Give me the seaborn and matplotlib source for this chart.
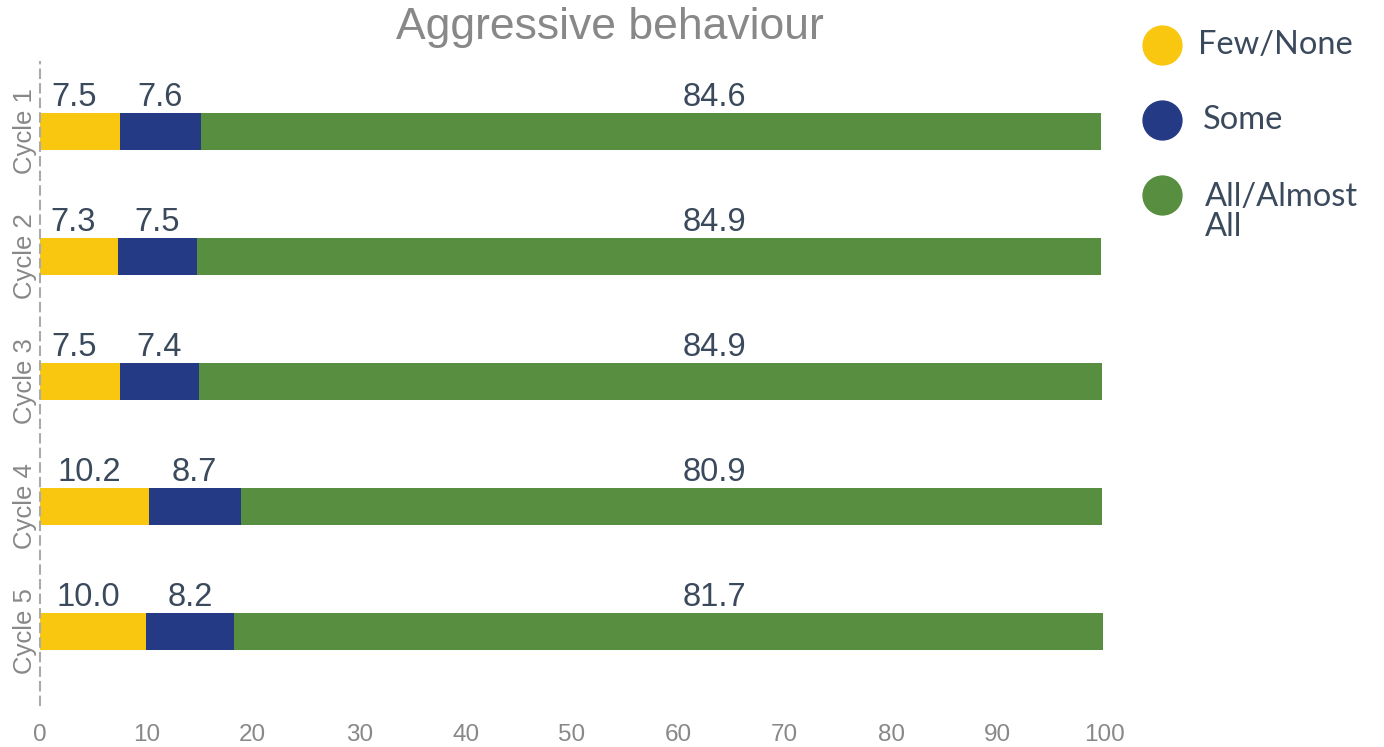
import matplotlib
matplotlib.use("Agg")
import matplotlib.pyplot as plt
from matplotlib.lines import Line2D
import numpy as np
import pandas as pd
import seaborn as sns

# Data
cycles = ["Cycle 1", "Cycle 2", "Cycle 3", "Cycle 4", "Cycle 5"]
few_none = [7.5, 7.3, 7.5, 10.2, 10.0]
some = [7.6, 7.5, 7.4, 8.7, 8.2]
all_almost = [84.6, 84.9, 84.9, 80.9, 81.7]
series_names = ["Few/None", "Some", "All/Almost\nAll"]
x_ticks = [0, 10, 20, 30, 40, 50, 60, 70, 80, 90, 100]

colors = ["#F9C710", "#253A85", "#578E3F"]
label_color = "#3A4A5C"
gray = "#888888"

sns.set_theme(style="white")
plt.rcParams["font.family"] = ["Liberation Sans", "DejaVu Sans"]

df = pd.DataFrame({
    "cycle": cycles,
    "few": few_none,
    "some": some,
    "all": all_almost,
})
df["c1"] = df["few"]
df["c2"] = df["few"] + df["some"]
df["c3"] = df["few"] + df["some"] + df["all"]

W, H = 1384, 747
fig = plt.figure(figsize=(W / 100, H / 100), dpi=100)
ax = fig.add_axes([40 / W, 1 - 705 / H, (1104 - 40) / W, (705 - 62) / H])

bar_w = 0.296
# stacked bars drawn as overlapping cumulative totals
for col, c in zip(["c3", "c2", "c1"], colors[::-1]):
    sns.barplot(data=df, x=col, y="cycle", order=cycles, color=c,
                width=bar_w, saturation=1, ax=ax, orient="h", linewidth=0)

ax.set_xlim(0, 100)
ax.set_ylim(4.592, -0.552)
ax.set_xlabel("")
ax.set_ylabel("")
ax.set_xticks(x_ticks)
ax.set_xticklabels([str(t) for t in x_ticks])
ax.tick_params(axis="x", colors=gray, labelsize=17.5, length=0, pad=14)
ax.tick_params(axis="y", colors=gray, labelsize=18.5, length=0, pad=2)
for lab in ax.get_yticklabels():
    lab.set_rotation(90)
    lab.set_va("center")

for s in ["top", "right", "bottom"]:
    ax.spines[s].set_visible(False)
ax.spines["left"].set_color("#AAAAAA")
ax.spines["left"].set_linewidth(1.5)
ax.spines["left"].set_linestyle((0, (4, 3)))
ax.grid(False)

# value labels above each segment
green_label_x = 63.4
for i in range(len(cycles)):
    y = i - 0.27
    f, s_, a = few_none[i], some[i], all_almost[i]
    ax.text(f / 2 - 0.5, y, f"{f:.1f}", ha="center", va="center",
            fontsize=23.5, color=label_color)
    ax.text(f + s_ / 2, y, f"{s_:.1f}", ha="center", va="center",
            fontsize=23.5, color=label_color)
    ax.text(green_label_x, y, f"{a:.1f}", ha="center", va="center",
            fontsize=23.5, color=label_color)

fig.text(610 / W, 1 - 28 / H, "Aggressive behaviour", ha="center",
         va="center", fontsize=32, color=gray)

# legend
legend_y = [45, 120, 195]
text_x = [1198, 1203, 1205]
for name, c, yy, tx in zip(series_names, colors, legend_y, text_x):
    fig.add_artist(Line2D([1162 / W], [1 - yy / H], marker="o",
                          markersize=28, color=c, linestyle="none",
                          transform=fig.transFigure))
    n_lines = name.count("\n")
    ty = yy + n_lines * 33 / 2
    fig.text(tx / W, 1 - ty / H, name, ha="left", va="center",
             fontsize=23.5, color=label_color, family=["Lato", "DejaVu Sans"],
             linespacing=1.0)

fig.savefig("out.png", dpi=100)
